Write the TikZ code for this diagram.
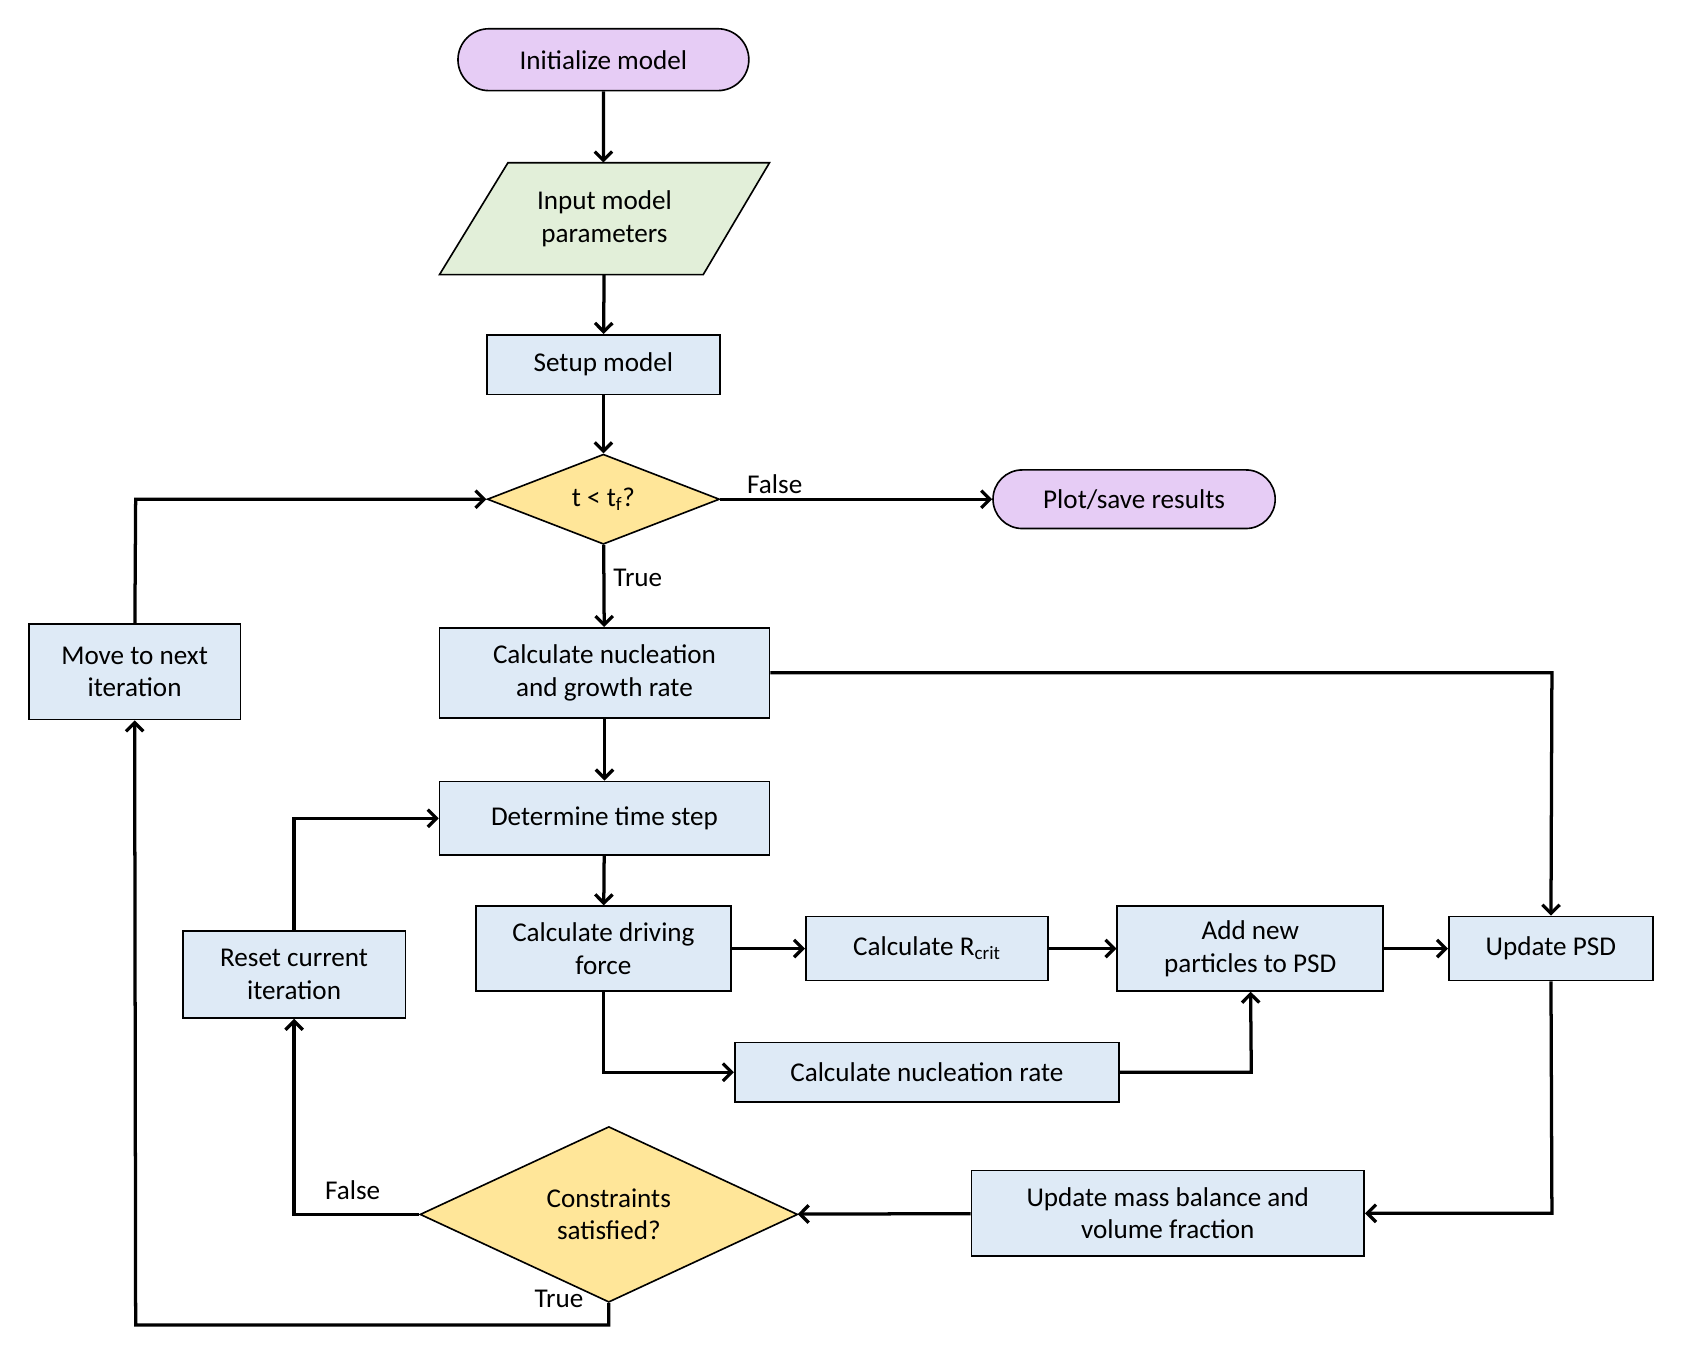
\documentclass[tikz,border=0pt]{standalone}
\usepackage{fontspec}
\setmainfont{Carlito}
\usetikzlibrary{shapes.geometric,shapes.misc,arrows.meta}
\definecolor{pur}{HTML}{E6CCF5}
\definecolor{grn}{HTML}{E2EFD9}
\definecolor{blu}{HTML}{DEEAF6}
\definecolor{yel}{HTML}{FFE699}
\begin{document}
\begin{tikzpicture}[x=1pt,y=-1pt,
  font=\fontsize{25}{30}\selectfont,
  box/.style={draw,line width=1.5pt,fill=blu,rectangle,align=center,inner sep=0pt},
  pill/.style={draw,line width=1.5pt,fill=pur,rounded rectangle,inner sep=0pt},
  dia/.style={draw,line width=1.5pt,fill=yel,diamond,align=center,inner sep=0pt},
  ar/.style={line width=3pt,-{Straight Barb[length=8pt,width=16pt,line width=3pt]}},
  lab/.style={font=\fontsize{25}{30}\selectfont}]
\useasboundingbox (0,0) rectangle (1560,1253);
\node[pill,minimum width=268,minimum height=57] (init) at (556,55) {Initialize model};
\fill[grn] (468,150) -- (709,150) -- (648,253) -- (405,253) -- cycle;
\draw[line width=1.5pt] (468,150) -- (709,150) -- (648,253) -- (405,253) -- cycle;
\node[align=center,minimum width=230,minimum height=103,inner sep=0pt] (input) at (557,201.5) {Input model\\parameters};
\node[box,minimum width=215,minimum height=55] (setup) at (556,336) {Setup model};
\node[dia,minimum width=214,minimum height=83] (t) at (556,460) {t < t\textsubscript{f}?};
\node[pill,minimum width=260,minimum height=54] (plot) at (1045,460) {Plot/save results};
\node[box,minimum width=304,minimum height=83] (ng) at (557,620) {Calculate nucleation\\and growth rate};
\node[box,minimum width=195,minimum height=88] (move) at (124,619) {Move to next\\iteration};
\node[box,minimum width=304,minimum height=68] (det) at (557,754) {Determine time step};
\node[box,minimum width=205,minimum height=80] (reset) at (271,898) {Reset current\\iteration};
\node[box,minimum width=235,minimum height=78] (drive) at (556,874) {Calculate driving\\force};
\node[box,minimum width=223,minimum height=59] (rcrit) at (854,874) {Calculate R\textsubscript{crit}};
\node[box,minimum width=245,minimum height=78] (add) at (1152,874) {Add new\\particles to PSD};
\node[box,minimum width=188,minimum height=59] (upsd) at (1429,874) {Update PSD};
\node[box,minimum width=354,minimum height=55] (nuc) at (854,988) {Calculate nucleation rate};
\node[box,minimum width=362,minimum height=79] (mass) at (1076,1118) {Update mass balance and\\volume fraction};
\node[dia,minimum width=348,minimum height=113] (con) at (561,1119) {Constraints\\satisfied?};
\coordinate (c1) at (1430,620);
\coordinate (c2) at (556,988);
\coordinate (c3) at (1153,988);
\coordinate (c4) at (1430,1118);
\coordinate (c5) at (271,1119);
\coordinate (c6) at (271,754);
\coordinate (c7) at (561,1221);
\coordinate (c8) at (125,1221);
\coordinate (c9) at (125,460);
\draw[ar] (init) -- (init|-input.north);
\draw[ar] (input) -- (setup);
\draw[ar] (setup) -- (t);
\draw[ar] (t) -- node[lab,above,pos=0.2]{False} (plot);
\draw[ar] (t) -- node[lab,right,pos=0.4,xshift=4pt]{True} (ng);
\draw[ar] (ng.east|-c1) -- (c1) -- (upsd);
\draw[ar] (ng) -- (det);
\draw[ar] (det) -- (drive);
\draw[ar] (drive) -- (rcrit);
\draw[ar] (rcrit) -- (add);
\draw[ar] (add) -- (upsd);
\draw[ar] (drive) -- (c2) -- (nuc);
\draw[ar] (nuc) -- (c3) -- (add);
\draw[ar] (upsd) -- (c4) -- (mass);
\draw[ar] (mass) -- (con);
\draw[ar] (con) -- (c5) -- (reset);
\node[lab] at (325,1097) {False};
\draw[ar] (reset) -- (c6) -- (det);
\draw[ar] (con) -- (c7) -- (c8) -- (move);
\node[lab] at (515,1197) {True};
\draw[ar] (move) -- (c9) -- (t);
\end{tikzpicture}
\end{document}
